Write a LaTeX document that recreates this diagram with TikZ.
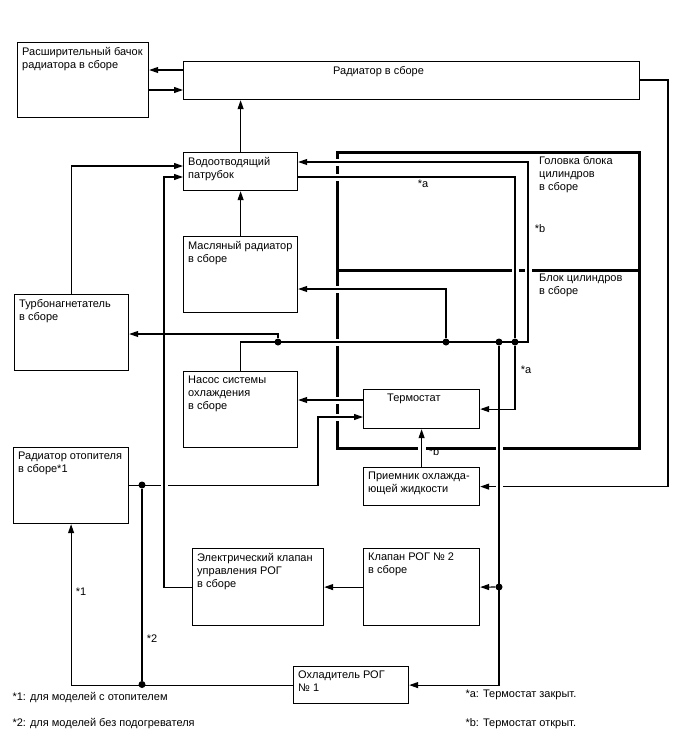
\documentclass[tikz,border=0pt]{standalone}
\usepackage{fontspec}
\setmainfont{Liberation Sans}
\usetikzlibrary{arrows.meta}

\tikzset{
  unit/.style={draw,line width=1.2pt,anchor=north west,inner sep=0pt},
  frame/.style={draw,line width=3pt,anchor=north west,inner sep=0pt},
  txt/.style={anchor=north west,align=left,inner xsep=5pt,inner ysep=5pt},
  flow/.style={line width=1.1pt,-{Triangle[length=9pt,width=6pt]}},
  pipe/.style={line width=1.1pt},
  gap/.style={fill=white},
  dot/.style={circle,fill,inner sep=0pt,minimum size=7pt},
}

\begin{document}
\begin{tikzpicture}[x=1pt,y=-1pt,font=\fontsize{11}{13}\selectfont]
\useasboundingbox (0,0) rectangle (688,755);
% units
\node[unit,minimum width=131pt,minimum height=75pt] (tank) at (17,42) {};
\node[txt] (tank-t) at (tank.north west) {Расширительный бачок\\радиатора в сборе};
\node[unit,minimum width=456pt,minimum height=38pt] (rad) at (183,61) {};
\node[txt,xshift=145pt] (rad-t) at (rad.north west) {Радиатор в сборе};
\node[unit,minimum width=114pt,minimum height=38pt] (outlet) at (183,152) {};
\node[txt] (outlet-t) at (outlet.north west) {Водоотводящий\\патрубок};
\node[unit,minimum width=114pt,minimum height=76pt] (oil) at (183,236) {};
\node[txt] (oil-t) at (oil.north west) {Масляный радиатор\\в сборе};
\node[unit,minimum width=114pt,minimum height=76pt] (turbo) at (14,294) {};
\node[txt] (turbo-t) at (turbo.north west) {Турбонагнетатель\\в сборе};
\node[unit,minimum width=114pt,minimum height=76pt] (pump) at (183,371) {};
\node[txt] (pump-t) at (pump.north west) {Насос системы\\охлаждения\\в сборе};
\node[unit,minimum width=115pt,minimum height=76pt] (heater) at (13,447) {};
\node[txt] (heater-t) at (heater.north west) {Радиатор отопителя\\в сборе*1};
\node[unit,minimum width=131pt,minimum height=77pt] (valve) at (192,548) {};
\node[txt] (valve-t) at (valve.north west) {Электрический клапан\\управления РОГ\\в сборе};
\node[unit,minimum width=116pt,minimum height=77pt] (egr2) at (363,548) {};
\node[txt] (egr2-t) at (egr2.north west) {Клапан РОГ № 2\\в сборе};
\node[unit,minimum width=115pt,minimum height=37pt] (cooler) at (293,666) {};
\node[txt] (cooler-t) at (cooler.north west) {Охладитель РОГ\\№ 1};
% engine
\node[frame,minimum width=302pt,minimum height=118pt] (head) at (336,151) {};
\node[txt,xshift=198pt] (head-t) at (head.north west) {Головка блока\\цилиндров\\в сборе};
\node[frame,minimum width=302pt,minimum height=178pt] (block) at (336,269) {};
\node[txt,xshift=198pt] (block-t) at (block.north west) {Блок цилиндров\\в сборе};
\fill[gap] (333,158.5) rectangle (339,165.5);
\fill[gap] (333,173.5) rectangle (339,180.5);
\fill[gap] (333,285.5) rectangle (339,292.5);
\fill[gap] (333,338.5) rectangle (339,345.5);
\fill[gap] (333,396.5) rectangle (339,403.5);
\fill[gap] (333,413.5) rectangle (339,420.5);
\fill[gap] (511.5,266) rectangle (518.5,272);
\fill[gap] (524.5,266) rectangle (531.5,272);
\fill[gap] (418,444) rectangle (426,450);
\fill[gap] (495.5,444) rectangle (502.5,450);
\node[unit,minimum width=116pt,minimum height=39pt,fill=white] (thermo) at (363,389) {};
\node[txt,xshift=19pt] (thermo-t) at (thermo.north west) {Термостат};
\node[unit,minimum width=116pt,minimum height=38pt] (inlet) at (363,467) {};
\node[txt] (inlet-t) at (inlet.north west) {Приемник охлажда-\\ющей жидкости};
% junctions
\node[dot] (j1) at (278,342) {};
\node[dot] (j2) at (446,342) {};
\node[dot] (j3) at (499,342) {};
\node[dot] (j4) at (515,342) {};
\node[dot] (j5) at (142,485) {};
\node[dot] (j6) at (142,684.5) {};
\node[dot] (j7) at (499,587) {};
% flows
\draw[flow] (rad.west |- 0,70) -- (tank.east |- 0,70);
\draw[flow] (tank.east |- 0,90) -- (rad.west |- 0,90);
\draw[flow] (outlet.north) -- (rad.south -| outlet.north);
\draw[flow] (oil.north) -- (outlet.south);
\draw[flow] (turbo.north) |- (outlet.west |- 0,166);
\draw[flow] (pump.north) |- (528,342) |- (outlet.east |- 0,162);
\draw[flow] (outlet.east |- 0,177) -| (j4) |- (thermo.east);
\draw[flow] (j1) |- (turbo.east |- 0,334);
\draw[flow] (j2) |- (oil.east |- 0,289);
\draw[flow] (thermo.west |- 0,400) -- (pump.east |- 0,400);
\draw[flow] (heater.east) -| (318,417) -- (thermo.west |- 0,417);
\draw[flow] (rad.east |- 0,80) -- (668,80) |- (inlet.east);
\draw[flow] (inlet.north) -- (thermo.south);
\fill[gap] (160.5,482) rectangle (167.5,489);
\fill[gap] (495.5,483) rectangle (502.5,490);
\draw[flow] (valve.west) -| (164,177) -- (outlet.west |- 0,177);
\draw[flow] (j3) |- (cooler.east);
\draw[flow] (j7) -- (egr2.east);
\draw[flow] (egr2.west) -- (valve.east);
\draw[pipe] (j5) -- (j6);
\draw[flow] (cooler.west) -| (heater.south);
% marks
\node (a1) at (423,184) {*a};
\node (b1) at (540,229) {*b};
\node (a2) at (526,370) {*a};
\node (b2) at (434,452) {*b};
\node (m1) at (81,592) {*1};
\node (m2) at (152,639) {*2};
% notes
\node[anchor=west] (n1) at (9,698) {*1: для моделей с отопителем};
\node[anchor=west] (n2) at (9,724) {*2: для моделей без подогревателя};
\node[anchor=west] (na) at (462,695) {*a: Термостат закрыт.};
\node[anchor=west] (nb) at (462,724) {*b: Термостат открыт.};
\end{tikzpicture}
\end{document}
